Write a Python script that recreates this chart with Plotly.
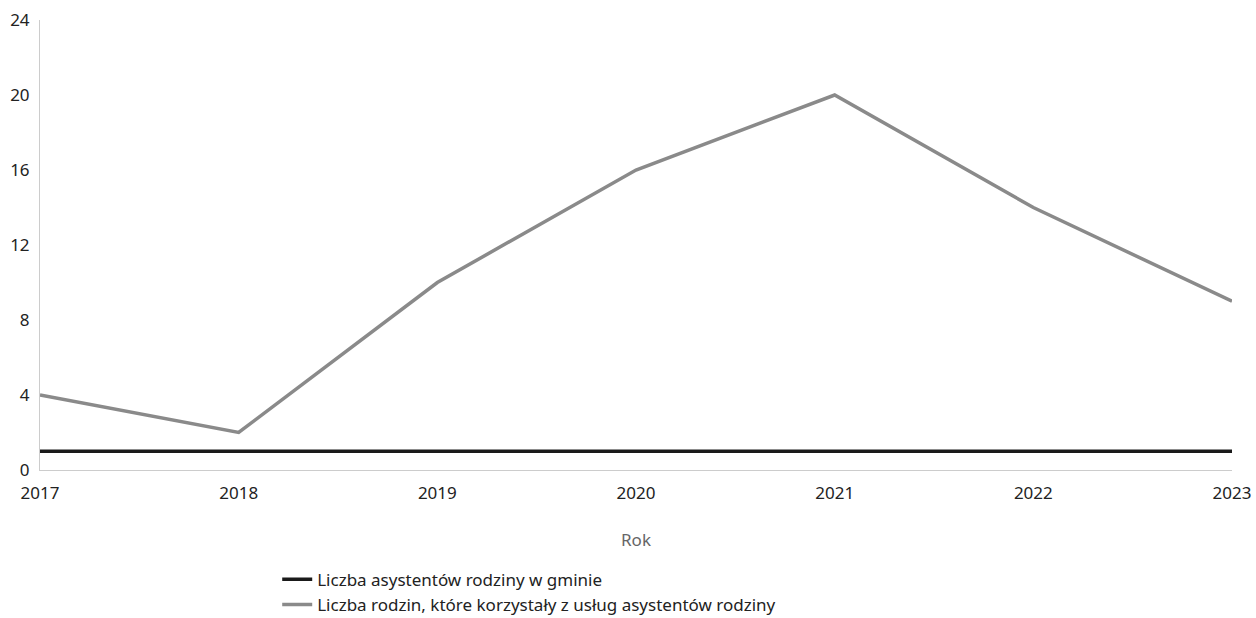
import plotly.graph_objects as go

years = [2017, 2018, 2019, 2020, 2021, 2022, 2023]
asystenci = [1, 1, 1, 1, 1, 1, 1]
rodziny = [4, 2, 10, 16, 20, 14, 9]
y_ticks = [0, 4, 8, 12, 16, 20, 24]

fig = go.Figure()
fig.add_trace(go.Scatter(
    x=years, y=asystenci, mode="lines",
    name="Liczba asystentów rodziny w gminie",
    line=dict(color="#1a1a1a", width=3.5),
))
fig.add_trace(go.Scatter(
    x=years, y=rodziny, mode="lines",
    name="Liczba rodzin, które korzystały z usług asystentów rodziny",
    line=dict(color="#8a8a8a", width=3.5),
))

fig.update_layout(
    width=1256, height=618,
    margin=dict(l=40, r=24, t=20, b=148, autoexpand=False),
    paper_bgcolor="white", plot_bgcolor="white",
    font=dict(family="Noto Sans", size=17, color="#222"),
    showlegend=True,
    legend=dict(
        x=0.199, y=-0.204, xanchor="left", yanchor="top",
        orientation="v", font=dict(size=17, color="#222"),
        itemwidth=30, tracegroupgap=0,
    ),
    xaxis=dict(
        range=[2017, 2023], tickvals=years, ticktext=[str(y) for y in years],
        showgrid=False, zeroline=False, showline=True, linecolor="#cccccc",
        linewidth=1, ticks="", tickfont=dict(size=17, color="#222"),
        ticklabelstandoff=8, ticklabeloverflow="allow",
        title=dict(text="Rok", font=dict(size=17, color="#666"), standoff=30),
    ),
    yaxis=dict(
        range=[0, 24], tickvals=y_ticks, showgrid=False, zeroline=False,
        showline=True, linecolor="#cccccc", linewidth=1, ticks="",
        tickfont=dict(size=17, color="#222"), ticklabelstandoff=6,
        ticklabeloverflow="allow",
    ),
)

fig.write_html(
    "out.html",
    config={"displayModeBar": False},
    post_script="document.body.style.margin='0';document.body.style.overflow='hidden';",
)
